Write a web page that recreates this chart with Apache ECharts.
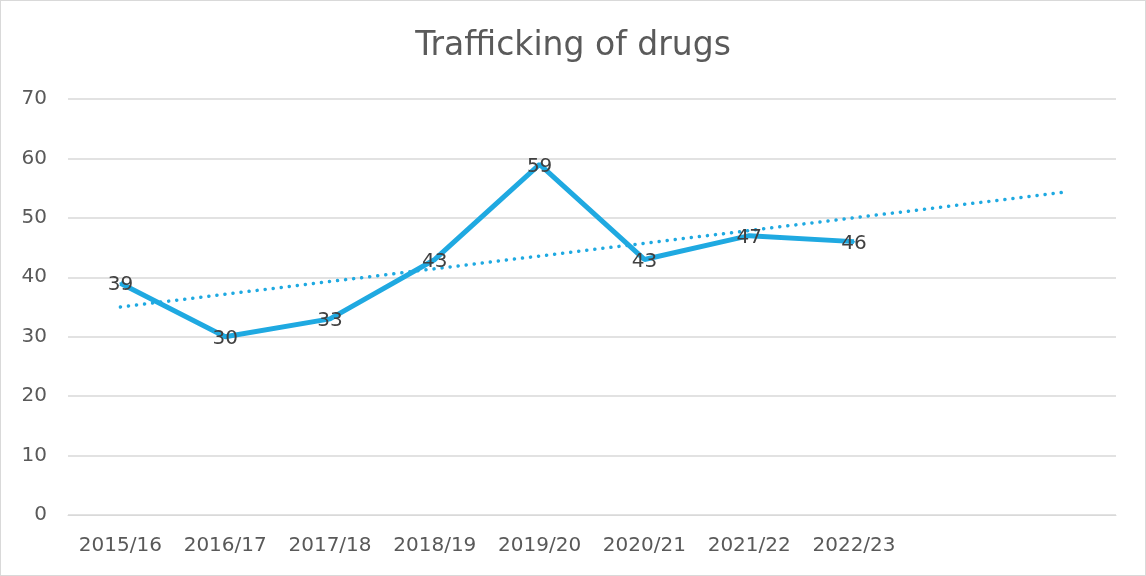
<!DOCTYPE html>
<html><head><meta charset="utf-8">
<script src="https://cdn.jsdelivr.net/npm/echarts@6/dist/echarts.min.js"></script>
<style>html,body{margin:0;padding:0;background:#fff}#c{width:1146px;height:576px;box-sizing:border-box;border:1px solid #d9d9d9}</style>
</head><body><div id="c"></div>
<script>
var categories = ['2015/16','2016/17','2017/18','2018/19','2019/20','2020/21','2021/22','2022/23','',''];
var values = [39,30,33,43,59,43,47,46,null,null];
var trend = [35,null,null,null,null,null,null,null,null,54.3];
var yTicks = [0,10,20,30,40,50,60,70];
var FONT = '"DejaVu Sans"';
var chart = echarts.init(document.getElementById('c'));
chart.setOption({
  animation:false,
  title:{text:'Trafficking of drugs',left:'center',top:24,textStyle:{fontFamily:FONT,fontSize:33,fontWeight:'normal',color:'#5a5a5a'}},
  grid:{left:67,right:29,top:98,bottom:60},
  xAxis:{type:'category',data:categories,boundaryGap:true,
    axisLine:{lineStyle:{color:'#d9d9d9',width:1}},axisTick:{show:false},
    axisLabel:{fontFamily:FONT,fontSize:20,color:'#595959',margin:21,interval:0}},
  yAxis:{type:'value',min:yTicks[0],max:yTicks[yTicks.length-1],interval:10,
    axisLine:{show:false},axisTick:{show:false},
    splitLine:{lineStyle:{color:'#d9d9d9',width:1.5}},
    axisLabel:{fontFamily:FONT,fontSize:20,color:'#595959',margin:21}},
  series:[
    {type:'line',data:trend,connectNulls:true,symbol:'none',
     lineStyle:{color:'#1FA9E1',width:3.5,type:[0.1,8],cap:'round'},z:1},
    {type:'line',data:values,symbol:'circle',symbolSize:2,showSymbol:true,
     itemStyle:{color:'#1FA9E1'},
     lineStyle:{color:'#1FA9E1',width:5},z:2,
     label:{show:true,position:'inside',offset:[0,2],fontFamily:FONT,fontSize:20,color:'#404040'}}
  ]
});
</script></body></html>
